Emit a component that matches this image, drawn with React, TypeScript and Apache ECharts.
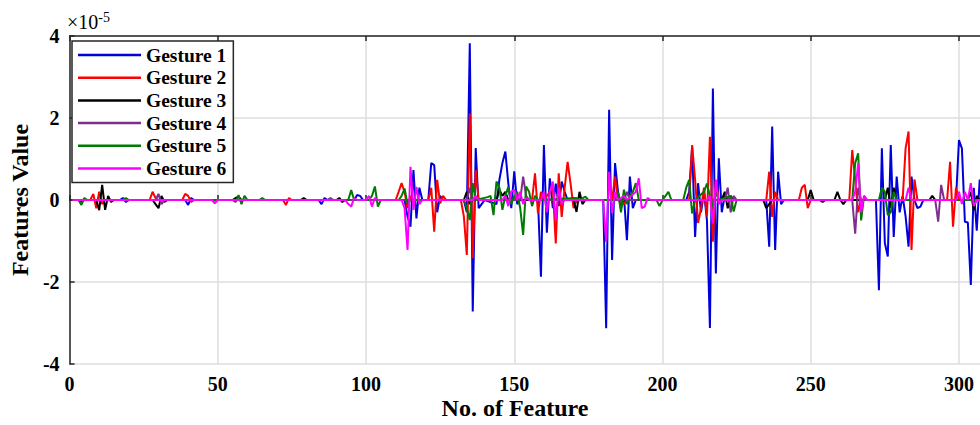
import React, { useEffect, useRef } from "react";
import * as echarts from "echarts";

// values are in units of 1e-5 ; pairs are [feature index, value]
const gesture1: [number, number][] = [
  [1, 0], [17, 0], [18, 0.05], [19, -0.05], [20, 0], [39, 0], [40, -0.12], [41, 0.05], [42, 0],
  [84, 0], [85, -0.1], [86, 0.05], [87, 0], [96, 0], [97, 0.12], [98, 0.1], [99, 0],
  [113, 0], [114, -0.4], [115, -0.65], [116, 0.73], [117, -0.45], [118, 0.3], [119, 0],
  [121, 0], [122, 0.9], [123, 0.85], [124, -0.3], [125, 0.1], [126, 0],
  [133, 0], [134, -0.3], [135, 3.82], [136, -2.72], [137, 1.27], [138, -0.2], [139, -0.1], [140, 0],
  [144, -0.1], [145, 0.5], [146, 0.9], [147, 1.18], [148, 0.4], [149, -0.2], [150, 0.7], [151, -0.1], [152, 0],
  [158, 0], [159, -1.87], [160, 1.34], [161, -0.8], [162, 0.53], [163, -0.2], [164, 0.4], [165, -0.15],
  [166, 0.45], [167, 0.2], [168, 0], [170, 0.05], [171, -0.05], [172, 0],
  [180, 0], [181, -3.13], [182, 2.2], [183, -1.46], [184, 0.9], [185, 0.2], [186, -0.2], [187, 0.1],
  [188, -0.98], [189, 0.57], [190, -0.2], [191, 0],
  [208, 0], [209, 0.2], [210, 1.3], [211, -0.9], [212, 0.41], [213, -0.3], [214, 0.2], [215, -0.5],
  [216, -3.12], [217, 2.72], [218, -1.79], [219, 1.02], [220, -0.3], [221, 0.1], [222, 0],
  [235, 0], [236, -1.14], [237, 1.79], [238, -1.22], [239, 0.69], [240, -0.1], [241, 0],
  [272, 0], [273, -2.2], [274, 1.26], [275, -1.05], [276, -1.38], [277, 1.34], [278, -0.9], [279, 0.57],
  [280, -0.3], [281, 0.1], [282, -0.4], [283, -1.14], [284, 0.57], [285, 0], [286, -0.2], [287, -0.16], [288, 0],
  [299, 0], [300, 1.46], [301, 1.26], [302, -0.53], [303, -0.55], [304, -2.07], [305, 0.3], [306, -0.75],
  [307, 0.5], [308, -0.3], [310, 0],
];

const gesture2: [number, number][] = [
  [1, 0], [7, 0], [8, 0.15], [9, -0.2], [10, 0.2], [11, -0.1], [12, 0], [27, 0], [28, 0.2], [29, 0.05], [30, 0],
  [38, 0], [39, 0.15], [40, 0.1], [41, -0.05], [42, 0], [72, 0], [73, -0.12], [74, 0.05], [75, 0],
  [110, 0], [111, 0.2], [112, 0.41], [113, 0.2], [114, -0.2], [115, 0.1], [116, 0],
  [121, 0], [122, 0.3], [123, -0.77], [124, 0.49], [125, -0.08], [126, 0.1], [127, 0],
  [132, 0], [133, -0.4], [134, -1.34], [135, 2.11], [136, -1.42], [137, 0.73], [138, 0],
  [156, 0], [157, 0.65], [158, -0.33], [159, 0.2], [160, 0], [163, 0.3], [164, -1.06], [165, 0.65],
  [166, -0.41], [167, 0.3], [168, 0.93], [169, 0.4], [170, -0.2], [171, 0],
  [183, 0], [184, 0.57], [185, 0], [187, -0.1], [188, 0],
  [209, 0], [210, 1.34], [211, 0.5], [212, -0.56], [213, -0.2], [214, 0.3], [215, -0.4], [216, 1.54],
  [217, -1.02], [218, 0.49], [219, 0],
  [235, 0], [236, 0.69], [237, -0.41], [238, 0.2], [239, 0], [246, 0], [247, 0.3], [248, 0.37], [249, -0.2], [250, 0],
  [263, 0], [264, 1.22], [265, 0.5], [266, -0.3], [267, 0],
  [281, 0], [282, 1.26], [283, 1.67], [284, -1.22], [285, 0.5], [286, 0],
  [296, 0], [297, 0.93], [298, -0.65], [299, 0.3], [300, 0], [310, 0],
];

const gesture3: [number, number][] = [
  [1, 0], [3, 0], [4, -0.05], [5, 0], [9, 0], [10, -0.25], [11, 0.37], [12, -0.24], [13, 0.1], [14, -0.05], [15, 0],
  [28, 0], [29, -0.1], [30, -0.2], [31, 0.1], [32, -0.05], [33, 0], [55, 0], [56, 0.05], [57, 0.08], [58, 0],
  [78, 0], [79, 0.05], [80, 0], [90, 0], [91, 0.05], [92, -0.05], [93, 0],
  [133, 0], [134, 0.2], [135, -0.1], [136, 0], [144, 0], [145, 0.25], [146, 0.1], [147, 0.2], [148, 0],
  [170, 0], [171, -0.29], [172, 0.2], [173, -0.1], [174, 0],
  [220, 0], [221, 0.2], [222, -0.2], [223, 0.1], [224, 0], [234, 0], [235, -0.2], [236, -0.1], [237, 0],
  [249, 0], [250, 0.24], [251, 0], [253, 0], [254, -0.05], [255, 0], [258, 0], [259, 0.2], [260, 0],
  [261, -0.1], [262, 0], [275, 0], [276, 0.3], [277, -0.2], [278, 0.3], [279, 0], [290, 0], [291, 0.1], [292, 0],
  [303, 0], [304, 0.2], [305, -0.25], [306, 0.1], [307, 0], [310, 0],
];

const gesture4: [number, number][] = [
  [1, 0], [29, 0], [30, 0.15], [31, -0.1], [32, 0], [87, 0], [88, 0.05], [89, 0],
  [134, 0], [135, 0.3], [136, 0], [152, 0], [153, 0.57], [154, 0.1], [155, 0], [187, 0], [188, 0.2], [189, 0],
  [221, 0], [222, 0.3], [223, -0.3], [224, 0.1], [225, 0], [264, 0], [265, -0.82], [266, 0.3], [267, 0],
  [292, 0], [293, -0.53], [294, 0.37], [295, 0], [310, 0],
];

const gesture5: [number, number][] = [
  [1, 0], [3, 0], [4, -0.12], [5, 0.05], [6, 0], [18, 0], [19, 0.05], [20, 0],
  [55, 0], [56, -0.05], [57, 0.12], [58, -0.1], [59, 0.1], [60, 0], [64, 0], [65, 0.05], [66, 0],
  [94, 0], [95, 0.24], [96, 0], [101, 0], [102, 0.1], [103, 0.33], [104, -0.16], [105, 0],
  [111, 0], [112, 0.1], [113, 0.28], [114, -0.1], [115, 0],
  [133, 0], [134, -0.2], [135, -0.49], [136, 0.41], [137, 0], [141, 0.07], [142, 0.1], [143, -0.37],
  [144, 0.45], [145, 0.3], [146, -0.24], [147, 0.1], [148, 0.32], [149, -0.1], [150, 0.1], [151, 0.2],
  [152, -0.2], [153, -0.85], [154, 0.33], [155, 0.2], [156, -0.15], [157, 0.1], [158, 0],
  [171, 0.05], [172, 0], [174, 0.08], [175, 0],
  [184, 0], [185, 0.2], [186, -0.3], [187, 0.25], [188, -0.1], [189, 0.1], [190, 0.2], [191, 0.41], [192, 0],
  [198, 0], [199, -0.15], [200, 0], [202, 0.2], [203, 0], [207, 0], [208, 0.3], [209, 0.49], [210, -0.33],
  [211, 0], [214, 0.2], [215, 0.4], [216, 0.1], [217, -0.2], [218, 0.2], [219, 0], [223, 0.1], [224, -0.28], [225, 0],
  [264, 0], [265, 0.9], [266, 1.14], [267, -0.5], [268, 0.1], [269, 0],
  [273, 0], [274, 0.3], [275, 0.2], [276, -0.37], [277, -0.3], [278, 0.2], [279, 0], [310, 0],
];

const gesture6: [number, number][] = [
  [1, 0], [48, 0], [49, -0.08], [50, 0], [93, 0], [94, -0.1], [95, -0.16], [96, 0.05], [97, 0],
  [100, 0], [101, 0.1], [102, -0.16], [103, 0.05], [104, 0],
  [112, 0], [113, -0.2], [114, -1.22], [115, 0.81], [116, -0.24], [117, 0.32], [118, -0.1], [119, 0],
  [136, 0], [137, 0.1], [138, 0], [146, 0], [147, 0.1], [148, -0.15], [149, 0.2], [150, 0.25], [151, 0],
  [152, 0.2], [153, -0.1], [154, 0.05], [155, 0],
  [159, 0], [160, 0.2], [161, -0.3], [162, 0.2], [163, 0.45], [164, -0.49], [165, 0.3], [166, -0.1], [167, 0],
  [180, 0], [181, -1.02], [182, 0.69], [183, -0.32], [184, 0.2], [185, 0], [187, 0.1], [188, 0],
  [191, 0.2], [192, 0.53], [193, -0.2], [194, -0.16], [195, 0.05], [196, 0],
  [215, 0], [216, 0.1], [217, -0.57], [218, 0.49], [219, -0.1], [220, 0],
  [264, 0], [265, 0.2], [266, 0.89], [267, -0.3], [268, 0.1], [269, 0], [282, 0], [283, 0.3], [284, 0],
  [299, 0], [300, 0.2], [301, -0.1], [302, 0.2], [303, 0], [304, 0.41], [305, -0.15], [306, 0], [310, 0],
];

const seriesNames = ["Gesture 1", "Gesture 2", "Gesture 3", "Gesture 4", "Gesture 5", "Gesture 6"];
const seriesData = [gesture1, gesture2, gesture3, gesture4, gesture5, gesture6];
const seriesColors = ["#0000dd", "#ff0000", "#000000", "#7e2f8e", "#007a00", "#ff00ff"];

const xMin = 0;
const xMax = 310;
const xInterval = 50;
const yMin = -4;
const yMax = 4;
const yInterval = 2;

const FONT = "'Liberation Serif', 'Times New Roman', serif";
const AXIS_COLOR = "#262626";
const GRID_COLOR = "#dedede";

export default function App() {
  const ref = useRef<HTMLDivElement>(null);
  useEffect(() => {
    document.body.style.margin = "0";
    if (!ref.current) return;
    const chart = echarts.init(ref.current, undefined, { renderer: "svg" });
    const tickStyle = { show: true, inside: true, length: 5, lineStyle: { color: AXIS_COLOR, width: 1.5 } };
    chart.setOption({
      animation: false,
      backgroundColor: "#ffffff",
      grid: { left: 66, top: 36, bottom: 61, right: 11.4, containLabel: false },
      legend: {
        orient: "vertical",
        left: 72,
        top: 41,
        data: seriesNames.map((n) => ({ name: n, icon: "rect" })),
        itemWidth: 63,
        itemHeight: 2.5,
        itemGap: 2.7,
        itemTextGap: 6,
        padding: [4, 7, 4, 6],
        borderColor: AXIS_COLOR,
        borderWidth: 1.5,
        backgroundColor: "#ffffff",
        textStyle: { fontFamily: FONT, fontWeight: "bold", fontSize: 19.5, color: "#000", lineHeight: 20 },
      },
      xAxis: [
        {
          type: "value",
          min: xMin,
          max: xMax,
          interval: xInterval,
          axisLine: { show: true, lineStyle: { color: AXIS_COLOR, width: 1.5 } },
          axisTick: tickStyle,
          axisLabel: {
            margin: 10,
            fontFamily: FONT,
            fontWeight: "bold",
            fontSize: 20,
            color: "#000",
            formatter: (v: number) => (v % xInterval === 0 ? String(v) : ""),
          },
          splitLine: { show: true, lineStyle: { color: GRID_COLOR, width: 1.5 } },
        },
        {
          type: "value",
          position: "top",
          min: xMin,
          max: xMax,
          interval: xInterval,
          axisLine: { show: true, lineStyle: { color: AXIS_COLOR, width: 1.5 } },
          axisTick: tickStyle,
          axisLabel: { show: false },
          splitLine: { show: false },
        },
      ],
      yAxis: {
        type: "value",
        min: yMin,
        max: yMax,
        interval: yInterval,
        name: "Features Value",
        nameLocation: "middle",
        nameGap: 36,
        nameTextStyle: { fontFamily: FONT, fontWeight: "bold", fontSize: 24, color: "#000" },
        axisLine: { show: true, lineStyle: { color: AXIS_COLOR, width: 1.5 } },
        axisTick: tickStyle,
        axisLabel: { margin: 10, fontFamily: FONT, fontWeight: "bold", fontSize: 20, color: "#000" },
        splitLine: { show: true, lineStyle: { color: GRID_COLOR, width: 1.5 } },
      },
      graphic: [
        {
          type: "text",
          x: 515,
          y: 396,
          style: {
            text: "No. of Feature",
            fontFamily: FONT,
            fontWeight: "bold",
            fontSize: 24,
            fill: "#000",
            align: "center",
            verticalAlign: "top",
          },
        },
        {
          type: "text",
          left: 67,
          top: 10,
          style: {
            text: "{a|×10}{b|-5}",
            rich: {
              a: { fontFamily: FONT, fontSize: 20, fill: "#000", verticalAlign: "bottom" },
              b: { fontFamily: FONT, fontSize: 14, fill: "#000", verticalAlign: "top", padding: [0, 0, 8, 0] },
            },
          },
        },
      ],
      series: seriesNames.map((name, i) => ({
        name,
        type: "line",
        xAxisIndex: 0,
        data: seriesData[i],
        symbol: "none",
        showSymbol: false,
        color: seriesColors[i],
        lineStyle: { width: 2, color: seriesColors[i] },
        itemStyle: { color: seriesColors[i] },
      })),
    });
    return () => chart.dispose();
  }, []);
  return (
    <div style={{ width: 980, height: 425, overflow: "hidden" }}>
      <div ref={ref} style={{ width: 1000, height: 425 }} />
    </div>
  );
}
